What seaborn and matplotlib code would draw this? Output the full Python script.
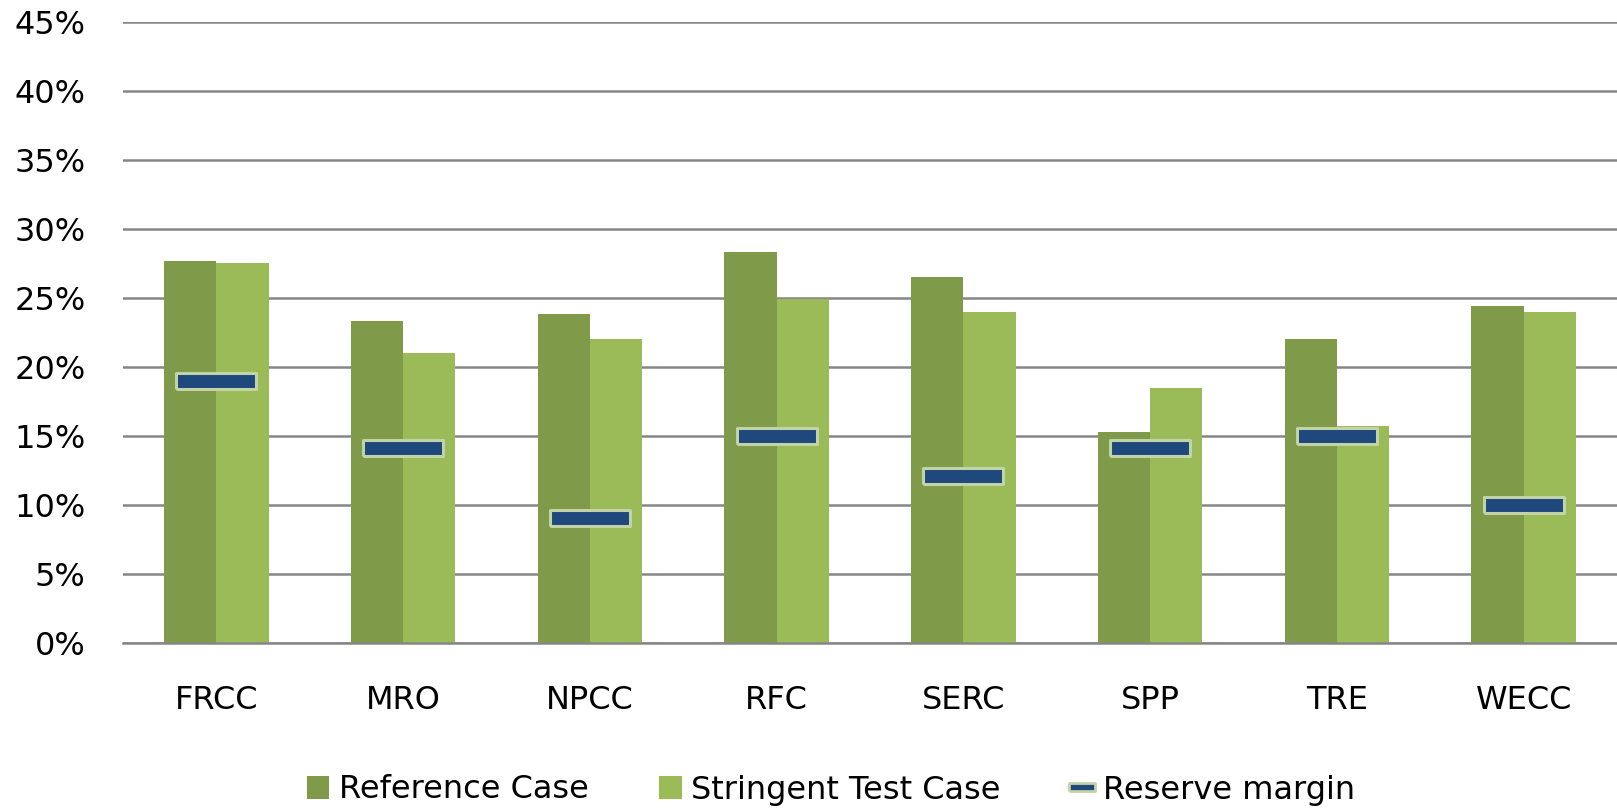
import numpy as np
import pandas as pd
import matplotlib
matplotlib.use("Agg")
import matplotlib.pyplot as plt
import seaborn as sns
from matplotlib.patches import Patch
from matplotlib.lines import Line2D
from matplotlib.ticker import FuncFormatter, MultipleLocator

# data (percent)
regions = ['FRCC', 'MRO', 'NPCC', 'RFC', 'SERC', 'SPP', 'TRE', 'WECC']
reference_case = [27.7, 23.3, 23.8, 28.3, 26.5, 15.3, 22.0, 24.4]
stringent_case = [27.5, 21.0, 22.0, 24.9, 24.0, 18.5, 15.7, 24.0]
reserve_margin = [19.0, 14.1, 9.1, 15.0, 12.1, 14.1, 15.0, 10.0]
series_names = ['Reference Case', 'Stringent Test Case', 'Reserve margin']

dark_green = '#7f9a48'
light_green = '#9bbb59'
navy = '#1f497d'
rim = '#c3d3a8'
grid_grey = '#868686'

sns.set_style("white")
plt.rcParams['font.family'] = ['DejaVu Sans']
plt.rcParams['text.color'] = 'black'

df = pd.DataFrame({
    'region': regions * 2,
    'value': reference_case + stringent_case,
    'case': [series_names[0]] * len(regions) + [series_names[1]] * len(regions),
})

fig = plt.figure(figsize=(16.17, 8.09), dpi=100)
ax = fig.add_axes([123 / 1617, 1 - 643.3 / 809, 1 - 123 / 1617, (643.3 - 21.5) / 809])

sns.barplot(data=df, x='region', y='value', hue='case', order=regions,
            palette=[dark_green, light_green], saturation=1, width=0.56,
            gap=0, legend=False, ax=ax, zorder=2, linewidth=0, edgecolor='none')

# reserve margin as wide flat rectangles
rect = [(-5, -1), (5, -1), (5, 1), (-5, 1), (-5, -1)]
sns.stripplot(x=regions, y=reserve_margin, order=regions, jitter=False,
              marker=rect, size=57.6, color=navy, edgecolor=rim,
              linewidth=2.2, ax=ax, zorder=4)

ax.set_xlim(-0.5, 7.5)
ax.set_ylim(0, 45)
ax.yaxis.set_major_locator(MultipleLocator(5))
ax.yaxis.set_major_formatter(FuncFormatter(lambda v, p: f'{v:.0f}%'))
ax.set_axisbelow(True)
ax.grid(axis='y', color=grid_grey, linewidth=1.8)
ax.grid(axis='x', visible=False)
for s in ['top', 'right', 'left']:
    ax.spines[s].set_visible(False)
ax.spines['bottom'].set_color(grid_grey)
ax.spines['bottom'].set_linewidth(1.8)
ax.spines['bottom'].set_zorder(3)
ax.tick_params(axis='y', length=0, pad=27, labelsize=23, labelcolor='black')
ax.tick_params(axis='x', length=0, pad=30, labelsize=23, labelcolor='black')
ax.set_xlabel('')
ax.set_ylabel('')

small_rect = [(-3.5, -1), (3.5, -1), (3.5, 1), (-3.5, 1), (-3.5, -1)]
handles = [
    Patch(facecolor=dark_green, edgecolor='none'),
    Patch(facecolor=light_green, edgecolor='none'),
    Line2D([], [], linestyle='none', marker=small_rect, markersize=19,
           markerfacecolor=navy, markeredgecolor=rim, markeredgewidth=2),
]
fig.legend(handles, series_names, ncol=3, loc='center',
           bbox_to_anchor=(831 / 1617, 1 - 790 / 809), frameon=False,
           fontsize=23, handlelength=0.7, handleheight=0.7,
           handletextpad=0.3, columnspacing=2.2, labelcolor='black')

fig.savefig('out.png', dpi=100)
